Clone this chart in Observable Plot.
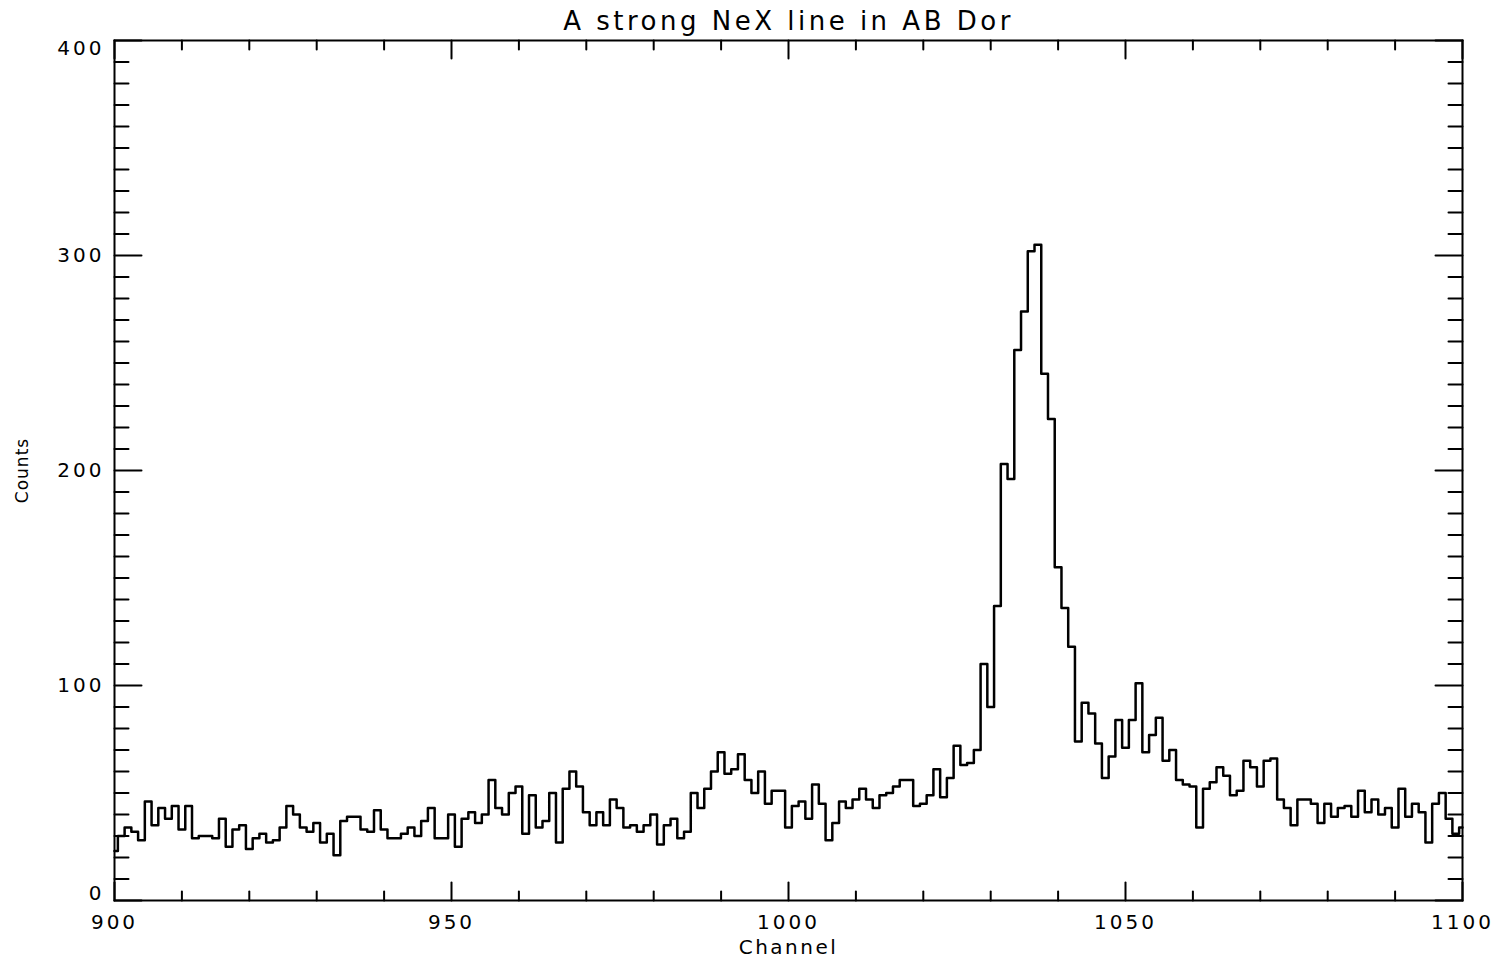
<!DOCTYPE html>
<html>
<head>
<meta charset="utf-8">
<script src="https://cdn.jsdelivr.net/npm/d3@7"></script>
<script src="https://cdn.jsdelivr.net/npm/@observablehq/plot@0.6"></script>
<style>
  body { margin: 0; background: #fff; }
  #chart svg .ticklab text { letter-spacing: 3px; }
  #chart svg .title text { letter-spacing: 3.5px; }
  #chart svg .xlab text { letter-spacing: 2.5px; }
  #chart svg .ylab text { letter-spacing: 1px; }
</style>
</head>
<body>
<div id="chart"></div>
<script>
const titleText = "A strong NeX line in AB Dor";
const xLabel = "Channel";
const yLabel = "Counts";

const channelStart = 900;
const counts = [
  23, 30, 34, 32, 28, 46, 35, 43, 38, 44,   // 900-909
  33, 44, 29, 30, 30, 29, 38, 25, 33, 35,   // 910-919
  24, 29, 31, 27, 28, 34, 44, 40, 34, 32,   // 920-929
  36, 27, 31, 21, 37, 39, 39, 33, 32, 42,   // 930-939
  33, 29, 29, 31, 34, 30, 37, 43, 29, 29,   // 940-949
  40, 25, 38, 41, 36, 40, 56, 43, 40, 50,   // 950-959
  53, 31, 49, 34, 37, 50, 27, 52, 60, 53,   // 960-969
  41, 35, 41, 35, 47, 43, 34, 35, 32, 35,   // 970-979
  40, 26, 35, 38, 29, 32, 50, 43, 52, 60,   // 980-989
  69, 59, 61, 68, 56, 50, 60, 45, 51, 51,   // 990-999
  34, 44, 46, 38, 54, 45, 28, 36, 46, 43,   // 1000-1009
  47, 52, 47, 43, 49, 50, 53, 56, 56, 44,   // 1010-1019
  45, 49, 61, 48, 57, 72, 63, 64, 70, 110,  // 1020-1029
  90, 137, 203, 196, 256, 274, 302, 305, 245, 224, // 1030-1039
  155, 136, 118, 74, 92, 87, 73, 57, 67, 84, // 1040-1049
  71, 84, 101, 69, 77, 85, 65, 70, 56, 54,  // 1050-1059
  53, 34, 52, 55, 62, 58, 49, 51, 65, 62,   // 1060-1069
  53, 65, 66, 47, 43, 35, 47, 47, 45, 36,   // 1070-1079
  45, 39, 43, 44, 39, 51, 41, 47, 40, 43,   // 1080-1089
  34, 52, 39, 45, 41, 27, 45, 50, 38, 31,   // 1090-1099
  34                                         // 1100
];
const channels = counts.map((_, i) => channelStart + i);

const xMajorTicks = [900, 950, 1000, 1050, 1100];
const xMinorTicks = [910, 920, 930, 940, 960, 970, 980, 990, 1010, 1020, 1030, 1040, 1060, 1070, 1080, 1090];
const yMajorTicks = [0, 100, 200, 300, 400];
const yMinorTicks = [10,20,30,40,50,60,70,80,90,110,120,130,140,150,160,170,180,190,
                     210,220,230,240,250,260,270,280,290,310,320,330,340,350,360,370,380,390];

const data = channels.map((c, i) => ({channel: c, counts: counts[i]}));

const tickShape = {draw(context, l) { context.moveTo(0, 0); context.lineTo(0, -l); }};
const tickStyle = {stroke: "black", strokeWidth: 2, anchor: "start", shape: tickShape};

const font = "DejaVu Sans, Verdana, sans-serif";
const yInner = yMajorTicks.slice(1, -1);
const yFirst = yMajorTicks.slice(0, 1);
const yLast = yMajorTicks.slice(-1);

const chart = Plot.plot({
  width: 1500,
  height: 959,
  marginLeft: 114,
  marginRight: 38,
  marginTop: 40,
  marginBottom: 59,
  style: {fontFamily: font, background: "white", color: "black"},
  x: {domain: [900, 1100], axis: null},
  y: {domain: [0, 400], axis: null},
  marks: [
    Plot.frame({stroke: "black", strokeWidth: 2}),
    // x ticks bottom & top
    Plot.vector(xMajorTicks, {x: d => d, y: null, frameAnchor: "bottom", rotate: 0, length: 18, ...tickStyle}),
    Plot.vector(xMinorTicks, {x: d => d, y: null, frameAnchor: "bottom", rotate: 0, length: 9, ...tickStyle}),
    Plot.vector(xMajorTicks, {x: d => d, y: null, frameAnchor: "top", rotate: 180, length: 18, ...tickStyle}),
    Plot.vector(xMinorTicks, {x: d => d, y: null, frameAnchor: "top", rotate: 180, length: 9, ...tickStyle}),
    // y ticks left & right
    Plot.vector(yMajorTicks, {y: d => d, x: null, frameAnchor: "left", rotate: 90, length: 27, ...tickStyle}),
    Plot.vector(yMinorTicks, {y: d => d, x: null, frameAnchor: "left", rotate: 90, length: 14, ...tickStyle}),
    Plot.vector(yMajorTicks, {y: d => d, x: null, frameAnchor: "right", rotate: -90, length: 27, ...tickStyle}),
    Plot.vector(yMinorTicks, {y: d => d, x: null, frameAnchor: "right", rotate: -90, length: 14, ...tickStyle}),
    // tick labels
    Plot.text(xMajorTicks, {x: d => d, y: null, frameAnchor: "bottom", lineAnchor: "middle", dy: 22, text: d => String(d), fontSize: 20, fill: "black", className: "ticklab"}),
    Plot.text(yInner, {y: d => d, x: null, frameAnchor: "left", dx: -10, textAnchor: "end", lineAnchor: "middle", text: d => String(d), fontSize: 20, fill: "black", className: "ticklab"}),
    Plot.text(yFirst, {y: d => d, x: null, frameAnchor: "left", dx: -10, dy: -7, textAnchor: "end", lineAnchor: "middle", text: d => String(d), fontSize: 20, fill: "black", className: "ticklab"}),
    Plot.text(yLast, {y: d => d, x: null, frameAnchor: "left", dx: -10, dy: 8, textAnchor: "end", lineAnchor: "middle", text: d => String(d), fontSize: 20, fill: "black", className: "ticklab"}),
    // axis titles
    Plot.text([xLabel], {frameAnchor: "bottom", lineAnchor: "middle", dy: 47, text: d => d, fontSize: 20, fill: "black", className: "xlab"}),
    Plot.text([yLabel], {frameAnchor: "left", textAnchor: "middle", lineAnchor: "middle", dx: -92, rotate: -90, text: d => d, fontSize: 17, fill: "black", className: "ylab"}),
    Plot.text([titleText], {frameAnchor: "top", lineAnchor: "middle", dy: -19, text: d => d, fontSize: 26, fill: "black", className: "title"}),
    // spectrum
    Plot.line(data, {x: "channel", y: "counts", curve: "step", stroke: "black", strokeWidth: 2.5})
  ]
});
document.getElementById("chart").appendChild(chart);
</script>
</body>
</html>
